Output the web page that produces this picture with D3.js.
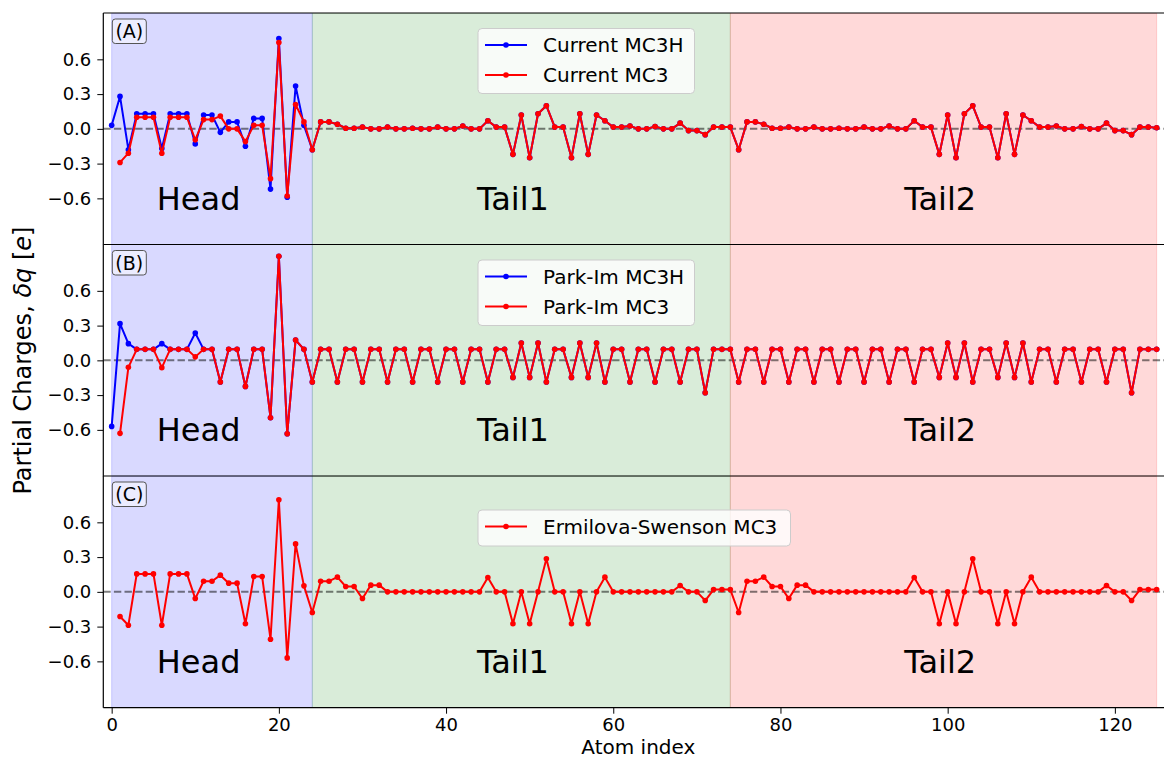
<!DOCTYPE html>
<html>
<head>
<meta charset="utf-8">
<script src="https://cdn.jsdelivr.net/npm/d3@7"></script>
<style>
  body { margin: 0; background: #fff; }
  svg { display: block; }
  text { font-family: "DejaVu Sans", sans-serif; fill: #000; }
</style>
</head>
<body>
<svg id="chart" width="1164" height="761"></svg>
<script>
// ---- Partial charge deviations (in e) per atom index, 0..125 ----
// MC3 (neutral) has no atom 0, hence the leading null.

const currentMC3H = [
  0.03, 0.28, -0.18, 0.13, 0.13, 0.13, -0.17, 0.13, 0.13, 0.13, -0.13, 0.12,
  0.12, -0.03, 0.06, 0.06, -0.15, 0.09, 0.09, -0.52, 0.78, -0.59, 0.37, 0.03,
  -0.18, 0.06, 0.06, 0.04, 0.005, 0.005, 0.015, 0, 0, 0.015, 0, 0, 0.005, 0, 0, 0.015, 0, 0,
  0.025, 0, 0, 0.07, 0.015, 0.015, -0.22, 0.12, -0.25, 0.13, 0.20, 0.015, 0.015, -0.25, 0.13,
  -0.22, 0.12, 0.07, 0.015, 0.015, 0.025, 0, 0, 0.02, 0, 0, 0.05, -0.015, -0.015, -0.05,
  0.015, 0.015, 0.015,
  -0.18, 0.06, 0.06, 0.04, 0.005, 0.005, 0.015, 0, 0, 0.015, 0, 0, 0.005, 0, 0, 0.015, 0, 0,
  0.025, 0, 0, 0.07, 0.015, 0.015, -0.22, 0.12, -0.25, 0.13, 0.20, 0.015, 0.015, -0.25, 0.13,
  -0.22, 0.12, 0.07, 0.015, 0.015, 0.025, 0, 0, 0.02, 0, 0, 0.05, -0.015, -0.015, -0.05,
  0.015, 0.015, 0.01
];

const currentMC3 = [
  null, -0.29, -0.21, 0.10, 0.10, 0.10, -0.21, 0.10, 0.10, 0.10, -0.095, 0.08,
  0.08, 0.11, 0.0, 0.0, -0.11, 0.03, 0.03, -0.43, 0.745, -0.58, 0.21, 0.06,
  -0.18, 0.06, 0.06, 0.04, 0.005, 0.005, 0.015, 0, 0, 0.015, 0, 0, 0.005, 0, 0, 0.015, 0, 0,
  0.025, 0, 0, 0.07, 0.015, 0.015, -0.22, 0.12, -0.25, 0.13, 0.20, 0.015, 0.015, -0.25, 0.13,
  -0.22, 0.12, 0.07, 0.015, 0.015, 0.025, 0, 0, 0.02, 0, 0, 0.05, -0.015, -0.015, -0.05,
  0.015, 0.015, 0.015,
  -0.18, 0.06, 0.06, 0.04, 0.005, 0.005, 0.015, 0, 0, 0.015, 0, 0, 0.005, 0, 0, 0.015, 0, 0,
  0.025, 0, 0, 0.07, 0.015, 0.015, -0.22, 0.12, -0.25, 0.13, 0.20, 0.015, 0.015, -0.25, 0.13,
  -0.22, 0.12, 0.07, 0.015, 0.015, 0.025, 0, 0, 0.02, 0, 0, 0.05, -0.015, -0.015, -0.05,
  0.015, 0.015, 0.01
];

const parkImMC3H = [
  -0.57, 0.317, 0.144, 0.095, 0.095, 0.095, 0.144, 0.095, 0.095, 0.095, 0.236, 0.095,
  0.095, -0.187, 0.095, 0.095, -0.225, 0.095, 0.095, -0.495, 0.898, -0.633, 0.176, 0.095,
  -0.187, 0.095, 0.095, -0.187, 0.095, 0.095, -0.187, 0.095, 0.095, -0.187, 0.095, 0.095,
  -0.187, 0.095, 0.095, -0.187, 0.095, 0.095, -0.187, 0.095, 0.095, -0.187, 0.095, 0.095,
  -0.147, 0.15, -0.147, 0.15, -0.187, 0.095, 0.095, -0.147, 0.15, -0.147, 0.15,
  -0.187, 0.095, 0.095, -0.187, 0.095, 0.095, -0.187, 0.095, 0.095, -0.187, 0.095, 0.095,
  -0.28, 0.095, 0.095, 0.095,
  -0.187, 0.095, 0.095, -0.187, 0.095, 0.095, -0.187, 0.095, 0.095, -0.187, 0.095, 0.095,
  -0.187, 0.095, 0.095, -0.187, 0.095, 0.095, -0.187, 0.095, 0.095, -0.187, 0.095, 0.095,
  -0.147, 0.15, -0.147, 0.15, -0.187, 0.095, 0.095, -0.147, 0.15, -0.147, 0.15,
  -0.187, 0.095, 0.095, -0.187, 0.095, 0.095, -0.187, 0.095, 0.095, -0.187, 0.095, 0.095,
  -0.28, 0.095, 0.095, 0.095
];

const parkImMC3 = [
  null, -0.63, -0.06, 0.095, 0.095, 0.095, -0.063, 0.095, 0.095, 0.095, 0.03, 0.095,
  0.095, -0.187, 0.095, 0.095, -0.225, 0.095, 0.095, -0.495, 0.898, -0.633, 0.176, 0.095,
  -0.187, 0.095, 0.095, -0.187, 0.095, 0.095, -0.187, 0.095, 0.095, -0.187, 0.095, 0.095,
  -0.187, 0.095, 0.095, -0.187, 0.095, 0.095, -0.187, 0.095, 0.095, -0.187, 0.095, 0.095,
  -0.147, 0.15, -0.147, 0.15, -0.187, 0.095, 0.095, -0.147, 0.15, -0.147, 0.15,
  -0.187, 0.095, 0.095, -0.187, 0.095, 0.095, -0.187, 0.095, 0.095, -0.187, 0.095, 0.095,
  -0.28, 0.095, 0.095, 0.095,
  -0.187, 0.095, 0.095, -0.187, 0.095, 0.095, -0.187, 0.095, 0.095, -0.187, 0.095, 0.095,
  -0.187, 0.095, 0.095, -0.187, 0.095, 0.095, -0.187, 0.095, 0.095, -0.187, 0.095, 0.095,
  -0.147, 0.15, -0.147, 0.15, -0.187, 0.095, 0.095, -0.147, 0.15, -0.147, 0.15,
  -0.187, 0.095, 0.095, -0.187, 0.095, 0.095, -0.187, 0.095, 0.095, -0.187, 0.095, 0.095,
  -0.28, 0.095, 0.095, 0.095
];

const ermilovaSwensonMC3 = [
  null, -0.213, -0.288, 0.155, 0.155, 0.155, -0.288, 0.155, 0.155, 0.155, -0.058, 0.092,
  0.092, 0.144, 0.075, 0.075, -0.276, 0.132, 0.132, -0.409, 0.794, -0.57, 0.414, 0.052,
  -0.178, 0.092, 0.092, 0.127, 0.046, 0.046, -0.058, 0.058, 0.058,
  0, 0, 0, 0, 0, 0, 0, 0, 0, 0, 0, 0, 0.124, 0, 0,
  -0.276, 0, -0.276, 0, 0.285, 0, 0, -0.276, 0, -0.276, 0, 0.127,
  0, 0, 0, 0, 0, 0, 0, 0, 0.055, 0, 0, -0.075, 0.02, 0.02, 0.02,
  -0.178, 0.092, 0.092, 0.127, 0.046, 0.046, -0.058, 0.058, 0.058,
  0, 0, 0, 0, 0, 0, 0, 0, 0, 0, 0, 0, 0.124, 0, 0,
  -0.276, 0, -0.276, 0, 0.285, 0, 0, -0.276, 0, -0.276, 0, 0.127,
  0, 0, 0, 0, 0, 0, 0, 0, 0.055, 0, 0, -0.075, 0.02, 0.02, 0.02
];

// Molecular segments: [start, end] atom index, colour, label anchor
const segmentNames = ["Head", "Tail1", "Tail2"];
const segmentStart = [0, 24, 74];
const segmentEnd = [24, 74, 125];
const segmentColors = ["blue", "green", "red"];
const segmentLabelX = [10.4, 48, 99.1];
const segmentLabelY = -0.7;

const yTicks = [-0.6, -0.3, 0.0, 0.3, 0.6];
const xTicks = [0, 20, 40, 60, 80, 100, 120];

const panels = [
  { tag: "(A)", series: [
      { name: "Current MC3H", values: currentMC3H, color: "blue" },
      { name: "Current MC3", values: currentMC3, color: "red" } ],
    legend: { x: 478, y: 28.5, w: 216.5, h: 65 } },
  { tag: "(B)", series: [
      { name: "Park-Im MC3H", values: parkImMC3H, color: "blue" },
      { name: "Park-Im MC3", values: parkImMC3, color: "red" } ],
    legend: { x: 478, y: 260, w: 216.5, h: 65.5 } },
  { tag: "(C)", series: [
      { name: "Ermilova-Swenson MC3", values: ermilovaSwensonMC3, color: "red" } ],
    legend: { x: 478, y: 510, w: 312.5, h: 36 } }
];

// ---- layout ----
const svg = d3.select("#chart");
const W = 1164, H = 761;
const left = 103.3;
const pxPerAtom = 8.36;
const panelTop = [13, 244.5, 476];
const panelH = 231.7;

svg.append("rect").attr("width", W).attr("height", H).attr("fill", "#fff");

const x = d3.scaleLinear().domain([-1, 126.5]).range([left, left + 127.5 * pxPerAtom]);

panels.forEach((p, k) => {
  const top = panelTop[k];
  const y = d3.scaleLinear().domain([-1, 1]).range([top + panelH, top]);
  const g = svg.append("g");

  const clipId = "clip" + k;
  g.append("clipPath").attr("id", clipId)
    .append("rect").attr("x", x.range()[0]).attr("y", top)
    .attr("width", x.range()[1] - x.range()[0]).attr("height", panelH);

  const plot = g.append("g").attr("clip-path", `url(#${clipId})`);

  // shaded segments
  plot.selectAll("rect.seg").data(segmentNames).join("rect")
    .attr("class", "seg")
    .attr("x", (d, i) => x(segmentStart[i]))
    .attr("width", (d, i) => x(segmentEnd[i]) - x(segmentStart[i]))
    .attr("y", top).attr("height", panelH)
    .attr("fill", (d, i) => segmentColors[i]).attr("fill-opacity", 0.15)
    .attr("stroke", (d, i) => segmentColors[i]).attr("stroke-opacity", 0.15)
    .attr("stroke-width", 1);

  // zero reference
  plot.append("line")
    .attr("x1", x.range()[0]).attr("x2", x.range()[1])
    .attr("y1", y(0)).attr("y2", y(0))
    .attr("stroke", "#000").attr("stroke-opacity", 0.5)
    .attr("stroke-width", 2).attr("stroke-dasharray", "7.4,3.2");

  // charge profiles
  p.series.forEach(s => {
    const pts = s.values.map((v, i) => [i, v]).filter(d => d[1] !== null);
    const line = d3.line().x(d => x(d[0])).y(d => y(d[1]));
    plot.append("path").datum(pts)
      .attr("d", line).attr("fill", "none")
      .attr("stroke", s.color).attr("stroke-width", 2)
      .attr("stroke-linejoin", "round");
    plot.append("g").selectAll("circle").data(pts).join("circle")
      .attr("cx", d => x(d[0])).attr("cy", d => y(d[1]))
      .attr("r", 2.8).attr("fill", s.color);
  });

  // segment names
  plot.selectAll("text.seg").data(segmentNames).join("text")
    .attr("class", "seg")
    .attr("x", (d, i) => x(segmentLabelX[i]))
    .attr("y", y(segmentLabelY))
    .attr("text-anchor", "middle")
    .attr("font-size", 32)
    .text(d => d);

  // legend
  const L = p.legend;
  const lg = g.append("g");
  lg.append("rect").attr("x", L.x).attr("y", L.y).attr("width", L.w).attr("height", L.h)
    .attr("rx", 4).attr("fill", "#fff").attr("fill-opacity", 0.8)
    .attr("stroke", "#ccc").attr("stroke-width", 1);
  p.series.forEach((s, j) => {
    const cy = L.y + 16.5 + j * 30;
    lg.append("line").attr("x1", L.x + 7).attr("x2", L.x + 49)
      .attr("y1", cy).attr("y2", cy).attr("stroke", s.color).attr("stroke-width", 2);
    lg.append("circle").attr("cx", L.x + 28).attr("cy", cy).attr("r", 2.8).attr("fill", s.color);
    lg.append("text").attr("x", L.x + 65).attr("y", cy).attr("dy", "0.36em")
      .attr("font-size", 20).text(s.name);
  });

  // panel tag
  const tg = g.append("g");
  tg.append("rect").attr("x", 112.3).attr("y", top + 6).attr("width", 34).attr("height", 24.5)
    .attr("rx", 3).attr("fill", "#fff").attr("fill-opacity", 0.5)
    .attr("stroke", "#555").attr("stroke-width", 1);
  tg.append("text").attr("x", 129.3).attr("y", top + 18.3).attr("dy", "0.36em")
    .attr("text-anchor", "middle").attr("font-size", 19).text(p.tag);

  // y axis
  const ya = g.append("g").attr("transform", `translate(${left},0)`)
    .call(d3.axisLeft(y).tickValues(yTicks).tickFormat(d3.format(".1f")).tickSize(6).tickPadding(6));
  ya.select(".domain").remove();
  ya.selectAll("line").attr("stroke", "#000").attr("stroke-width", 1);
  ya.selectAll("text").attr("font-size", 18).attr("font-family", "DejaVu Sans");

  // frame
  g.append("line").attr("x1", left).attr("x2", W).attr("y1", top).attr("y2", top)
    .attr("stroke", "#000").attr("stroke-width", 1.2);
  g.append("line").attr("x1", left).attr("x2", left).attr("y1", top).attr("y2", top + panelH)
    .attr("stroke", "#000").attr("stroke-width", 1.2);

  if (k === panels.length - 1) {
    g.append("line").attr("x1", left).attr("x2", W).attr("y1", top + panelH).attr("y2", top + panelH)
      .attr("stroke", "#000").attr("stroke-width", 1.2);
    const xa = g.append("g").attr("transform", `translate(0,${top + panelH})`)
      .call(d3.axisBottom(x).tickValues(xTicks).tickFormat(d3.format("d")).tickSize(6).tickPadding(5));
    xa.select(".domain").remove();
    xa.selectAll("line").attr("stroke", "#000");
    xa.selectAll("text").attr("font-size", 18).attr("font-family", "DejaVu Sans");
  }
});

// axis titles
svg.append("text").attr("x", x(63)).attr("y", 754)
  .attr("text-anchor", "middle").attr("font-size", 20).text("Atom index");

const yl = svg.append("text")
  .attr("transform", `translate(31,${panelTop[0] + 1.5 * panelH}) rotate(-90)`)
  .attr("text-anchor", "middle").attr("font-size", 24);
yl.append("tspan").text("Partial Charges,  ");
yl.append("tspan").attr("font-style", "italic").text("δq");
yl.append("tspan").text(" [");
yl.append("tspan").attr("font-style", "italic").text("e");
yl.append("tspan").text("]");
</script>
</body>
</html>
